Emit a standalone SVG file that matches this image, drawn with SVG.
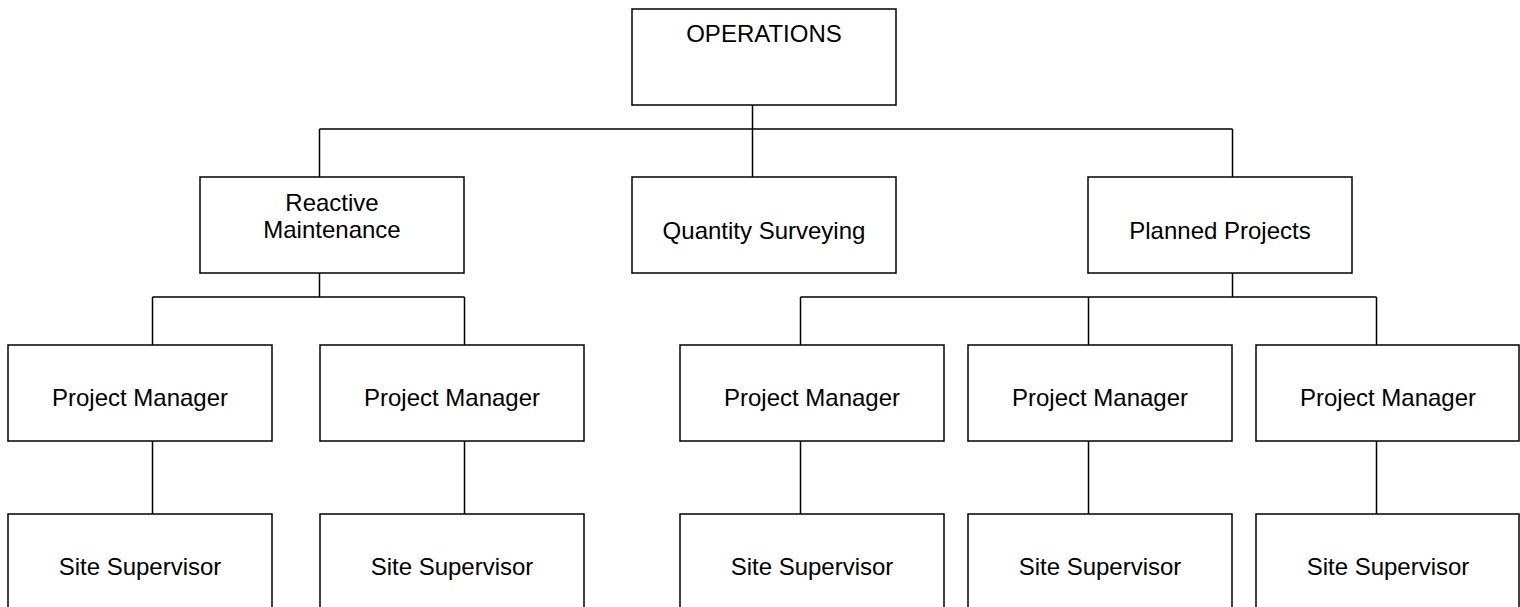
<svg xmlns="http://www.w3.org/2000/svg" width="1520" height="607" viewBox="0 0 1520 607">
  <style>
    .box { fill: #ffffff; stroke: #000000; stroke-width: 1.5; }
    .conn { fill: none; stroke: #000000; stroke-width: 1.5; }
    .lbl { font-family: "Liberation Sans", Arial, sans-serif; font-size: 24px; fill: #000000; text-anchor: middle; }
  </style>
  <rect width="1520" height="607" fill="#ffffff"/>
  <g id="connectors">
    <path class="conn" d="M752.5 105 V129 M319.5 129 H1232.5 M319.5 129 V177 M752.5 129 V177 M1232.5 129 V177"/>
    <path class="conn" d="M319.5 273 V297 M152.5 297 H464.5 M152.5 297 V345 M464.5 297 V345"/>
    <path class="conn" d="M1232.5 273 V297 M800.5 297 H1376.5 M800.5 297 V345 M1088.5 297 V345 M1376.5 297 V345"/>
    <path class="conn" d="M152.5 441 V514 M464.5 441 V514 M800.5 441 V514 M1088.5 441 V514 M1376.5 441 V514"/>
  </g>
  <g id="operations">
    <rect class="box" x="632" y="9" width="264" height="96"/>
    <text class="lbl" x="764" y="42">OPERATIONS</text>
  </g>
  <g id="reactive-maintenance">
    <rect class="box" x="200" y="177" width="264" height="96"/>
    <text class="lbl" x="332" y="211">Reactive</text>
    <text class="lbl" x="332" y="238">Maintenance</text>
  </g>
  <g id="quantity-surveying">
    <rect class="box" x="632" y="177" width="264" height="96"/>
    <text class="lbl" x="764" y="239">Quantity Surveying</text>
  </g>
  <g id="planned-projects">
    <rect class="box" x="1088" y="177" width="264" height="96"/>
    <text class="lbl" x="1220" y="239">Planned Projects</text>
  </g>
  <g id="pm1">
    <rect class="box" x="8" y="345" width="264" height="96"/>
    <text class="lbl" x="140" y="406">Project Manager</text>
  </g>
  <g id="pm2">
    <rect class="box" x="320" y="345" width="264" height="96"/>
    <text class="lbl" x="452" y="406">Project Manager</text>
  </g>
  <g id="pm3">
    <rect class="box" x="680" y="345" width="264" height="96"/>
    <text class="lbl" x="812" y="406">Project Manager</text>
  </g>
  <g id="pm4">
    <rect class="box" x="968" y="345" width="264" height="96"/>
    <text class="lbl" x="1100" y="406">Project Manager</text>
  </g>
  <g id="pm5">
    <rect class="box" x="1256" y="345" width="263" height="96"/>
    <text class="lbl" x="1388" y="406">Project Manager</text>
  </g>
  <g id="ss1">
    <rect class="box" x="8" y="514" width="264" height="96"/>
    <text class="lbl" x="140" y="575">Site Supervisor</text>
  </g>
  <g id="ss2">
    <rect class="box" x="320" y="514" width="264" height="96"/>
    <text class="lbl" x="452" y="575">Site Supervisor</text>
  </g>
  <g id="ss3">
    <rect class="box" x="680" y="514" width="264" height="96"/>
    <text class="lbl" x="812" y="575">Site Supervisor</text>
  </g>
  <g id="ss4">
    <rect class="box" x="968" y="514" width="264" height="96"/>
    <text class="lbl" x="1100" y="575">Site Supervisor</text>
  </g>
  <g id="ss5">
    <rect class="box" x="1256" y="514" width="263" height="96"/>
    <text class="lbl" x="1388" y="575">Site Supervisor</text>
  </g>
</svg>
